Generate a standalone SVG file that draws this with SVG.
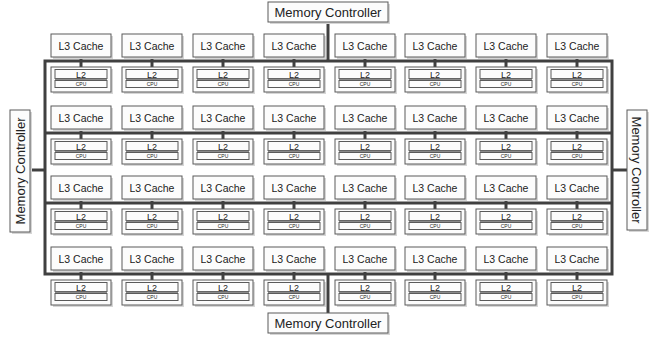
<svg xmlns="http://www.w3.org/2000/svg" width="650" height="337" viewBox="0 0 650 337">
<defs>
<style>
.box{fill:#fcfcfc;stroke:#5a5a5a;stroke-width:1}
.sh{fill:#d6d6d6}
.bus{stroke:#404040;stroke-width:3;fill:none}
.stub{stroke:#404040;stroke-width:3}
.in{fill:#fcfcfc;stroke:#5a5a5a;stroke-width:1}
.t{font-family:"Liberation Sans",Arial,sans-serif;fill:#222;text-anchor:middle}
.l3{font-size:10.5px}
.l2{font-size:9px}
.cpu{font-size:5px}
.mc{font-size:13px}
</style>
<g id="l3">
<rect class="sh" x="2" y="2" width="60" height="23"/>
<rect class="box" x="0" y="0" width="60" height="23"/>
<text class="t l3" x="30" y="15.5">L3 Cache</text>
</g>
<g id="core">
<rect class="sh" x="2" y="2" width="60" height="25"/>
<rect class="box" x="0" y="0" width="60" height="25"/>
<rect class="in" x="4" y="2.5" width="52" height="9"/>
<line x1="4" y1="12.5" x2="56" y2="12.5" stroke="#8a8a8a" stroke-width="1.5"/>
<rect class="in" x="4" y="13.5" width="52" height="7"/>
<text class="t l2" x="30" y="10.5">L2</text>
<text class="t cpu" x="30" y="19">CPU</text>
</g>
</defs>
<rect width="650" height="337" fill="#ffffff"/>
<g id="connectors">
<rect class="bus" x="45" y="61" width="567" height="213"/>
<line class="bus" x1="45" y1="133" x2="612" y2="133"/>
<line class="bus" x1="45" y1="203" x2="612" y2="203"/>
<line class="bus" x1="328" y1="22" x2="328" y2="61"/>
<line class="bus" x1="328" y1="274" x2="328" y2="313"/>
<line class="bus" x1="31" y1="170" x2="45" y2="170"/>
<line class="bus" x1="612" y1="170" x2="627" y2="170"/>
<g class="stub">
<line x1="81" y1="57" x2="81" y2="67"/><line x1="152" y1="57" x2="152" y2="67"/><line x1="223" y1="57" x2="223" y2="67"/><line x1="294" y1="57" x2="294" y2="67"/><line x1="365" y1="57" x2="365" y2="67"/><line x1="435" y1="57" x2="435" y2="67"/><line x1="506" y1="57" x2="506" y2="67"/><line x1="577" y1="57" x2="577" y2="67"/>
<line x1="81" y1="129" x2="81" y2="139"/><line x1="152" y1="129" x2="152" y2="139"/><line x1="223" y1="129" x2="223" y2="139"/><line x1="294" y1="129" x2="294" y2="139"/><line x1="365" y1="129" x2="365" y2="139"/><line x1="435" y1="129" x2="435" y2="139"/><line x1="506" y1="129" x2="506" y2="139"/><line x1="577" y1="129" x2="577" y2="139"/>
<line x1="81" y1="199" x2="81" y2="209"/><line x1="152" y1="199" x2="152" y2="209"/><line x1="223" y1="199" x2="223" y2="209"/><line x1="294" y1="199" x2="294" y2="209"/><line x1="365" y1="199" x2="365" y2="209"/><line x1="435" y1="199" x2="435" y2="209"/><line x1="506" y1="199" x2="506" y2="209"/><line x1="577" y1="199" x2="577" y2="209"/>
<line x1="81" y1="270" x2="81" y2="280"/><line x1="152" y1="270" x2="152" y2="280"/><line x1="223" y1="270" x2="223" y2="280"/><line x1="294" y1="270" x2="294" y2="280"/><line x1="365" y1="270" x2="365" y2="280"/><line x1="435" y1="270" x2="435" y2="280"/><line x1="506" y1="270" x2="506" y2="280"/><line x1="577" y1="270" x2="577" y2="280"/>
</g>
</g>
<g id="mc-top"><rect class="sh" x="270" y="4" width="120" height="20"/><rect class="box" x="268" y="2" width="120" height="20"/><text class="t mc" x="328" y="16.5">Memory Controller</text></g>
<g id="mc-bottom"><rect class="sh" x="270" y="315" width="120" height="20"/><rect class="box" x="268" y="313" width="120" height="20"/><text class="t mc" x="328" y="327.5">Memory Controller</text></g>
<g id="mc-left"><rect class="sh" x="12" y="112" width="20" height="122"/><rect class="box" x="10" y="110" width="20" height="122"/><text class="t mc" transform="translate(25 171) rotate(-90)">Memory Controller</text></g>
<g id="mc-right"><rect class="sh" x="629" y="112" width="20" height="120"/><rect class="box" x="627" y="110" width="20" height="120"/><text class="t mc" transform="translate(632 170) rotate(90)">Memory Controller</text></g>
<g id="row1">
<g id="l3-1-1"><use href="#l3" x="51" y="34"/></g><g id="l3-1-2"><use href="#l3" x="122" y="34"/></g><g id="l3-1-3"><use href="#l3" x="193" y="34"/></g><g id="l3-1-4"><use href="#l3" x="264" y="34"/></g><g id="l3-1-5"><use href="#l3" x="335" y="34"/></g><g id="l3-1-6"><use href="#l3" x="405" y="34"/></g><g id="l3-1-7"><use href="#l3" x="476" y="34"/></g><g id="l3-1-8"><use href="#l3" x="547" y="34"/></g>
<g id="core-1-1"><use href="#core" x="51" y="67"/></g><g id="core-1-2"><use href="#core" x="122" y="67"/></g><g id="core-1-3"><use href="#core" x="193" y="67"/></g><g id="core-1-4"><use href="#core" x="264" y="67"/></g><g id="core-1-5"><use href="#core" x="335" y="67"/></g><g id="core-1-6"><use href="#core" x="405" y="67"/></g><g id="core-1-7"><use href="#core" x="476" y="67"/></g><g id="core-1-8"><use href="#core" x="547" y="67"/></g>
</g>
<g id="row2">
<g id="l3-2-1"><use href="#l3" x="51" y="106"/></g><g id="l3-2-2"><use href="#l3" x="122" y="106"/></g><g id="l3-2-3"><use href="#l3" x="193" y="106"/></g><g id="l3-2-4"><use href="#l3" x="264" y="106"/></g><g id="l3-2-5"><use href="#l3" x="335" y="106"/></g><g id="l3-2-6"><use href="#l3" x="405" y="106"/></g><g id="l3-2-7"><use href="#l3" x="476" y="106"/></g><g id="l3-2-8"><use href="#l3" x="547" y="106"/></g>
<g id="core-2-1"><use href="#core" x="51" y="139"/></g><g id="core-2-2"><use href="#core" x="122" y="139"/></g><g id="core-2-3"><use href="#core" x="193" y="139"/></g><g id="core-2-4"><use href="#core" x="264" y="139"/></g><g id="core-2-5"><use href="#core" x="335" y="139"/></g><g id="core-2-6"><use href="#core" x="405" y="139"/></g><g id="core-2-7"><use href="#core" x="476" y="139"/></g><g id="core-2-8"><use href="#core" x="547" y="139"/></g>
</g>
<g id="row3">
<g id="l3-3-1"><use href="#l3" x="51" y="176"/></g><g id="l3-3-2"><use href="#l3" x="122" y="176"/></g><g id="l3-3-3"><use href="#l3" x="193" y="176"/></g><g id="l3-3-4"><use href="#l3" x="264" y="176"/></g><g id="l3-3-5"><use href="#l3" x="335" y="176"/></g><g id="l3-3-6"><use href="#l3" x="405" y="176"/></g><g id="l3-3-7"><use href="#l3" x="476" y="176"/></g><g id="l3-3-8"><use href="#l3" x="547" y="176"/></g>
<g id="core-3-1"><use href="#core" x="51" y="209"/></g><g id="core-3-2"><use href="#core" x="122" y="209"/></g><g id="core-3-3"><use href="#core" x="193" y="209"/></g><g id="core-3-4"><use href="#core" x="264" y="209"/></g><g id="core-3-5"><use href="#core" x="335" y="209"/></g><g id="core-3-6"><use href="#core" x="405" y="209"/></g><g id="core-3-7"><use href="#core" x="476" y="209"/></g><g id="core-3-8"><use href="#core" x="547" y="209"/></g>
</g>
<g id="row4">
<g id="l3-4-1"><use href="#l3" x="51" y="247"/></g><g id="l3-4-2"><use href="#l3" x="122" y="247"/></g><g id="l3-4-3"><use href="#l3" x="193" y="247"/></g><g id="l3-4-4"><use href="#l3" x="264" y="247"/></g><g id="l3-4-5"><use href="#l3" x="335" y="247"/></g><g id="l3-4-6"><use href="#l3" x="405" y="247"/></g><g id="l3-4-7"><use href="#l3" x="476" y="247"/></g><g id="l3-4-8"><use href="#l3" x="547" y="247"/></g>
<g id="core-4-1"><use href="#core" x="51" y="280"/></g><g id="core-4-2"><use href="#core" x="122" y="280"/></g><g id="core-4-3"><use href="#core" x="193" y="280"/></g><g id="core-4-4"><use href="#core" x="264" y="280"/></g><g id="core-4-5"><use href="#core" x="335" y="280"/></g><g id="core-4-6"><use href="#core" x="405" y="280"/></g><g id="core-4-7"><use href="#core" x="476" y="280"/></g><g id="core-4-8"><use href="#core" x="547" y="280"/></g>
</g>
</svg>
